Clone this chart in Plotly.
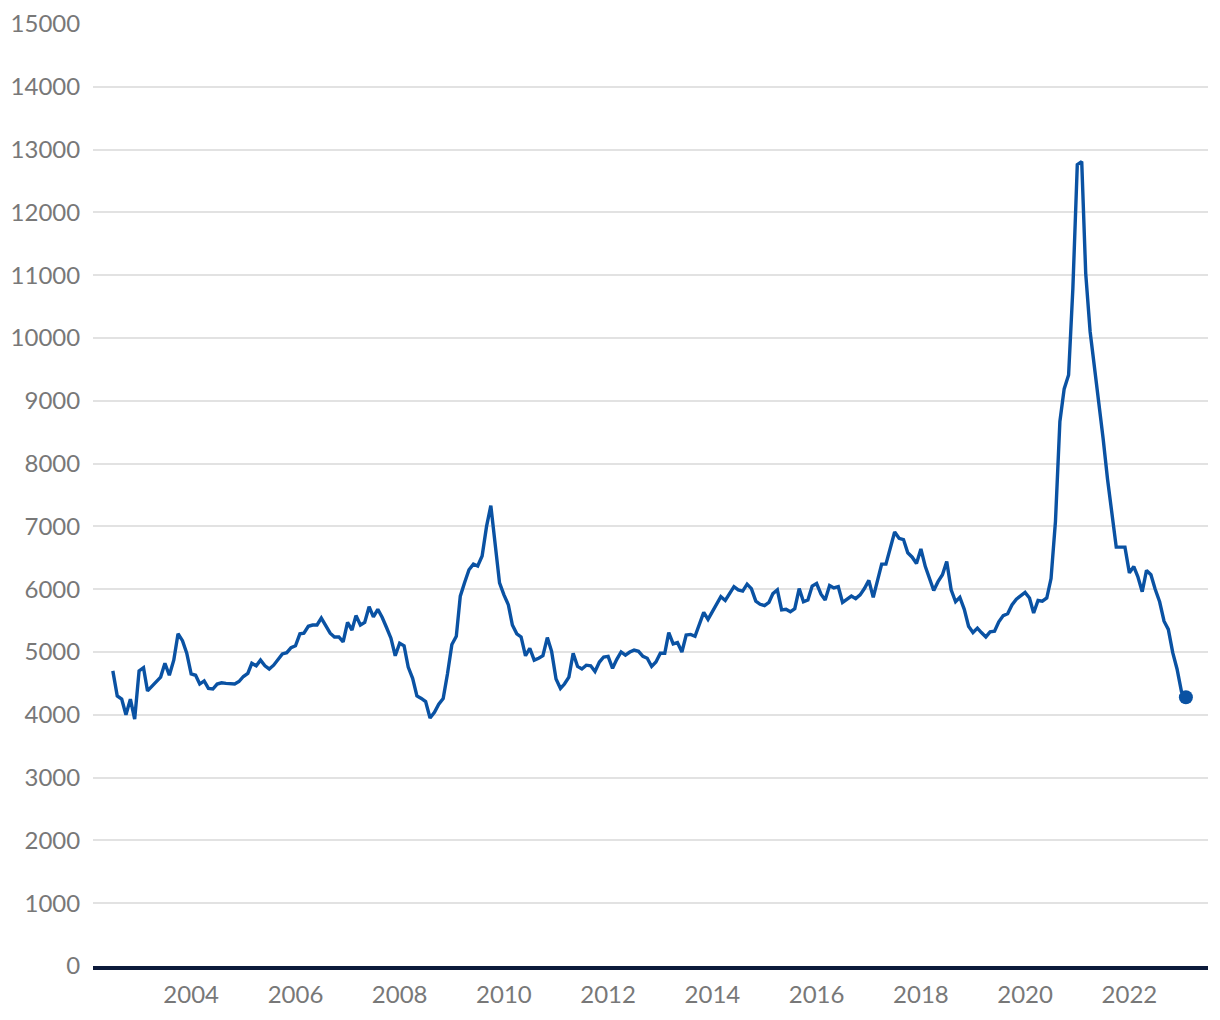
import pandas as pd
import plotly.graph_objects as go

start_month = "2002-07-01"
values = [4700,4300,4250,4000,4250,3930,4700,4750,4380,4450,
          4520,4600,4820,4630,4870,5290,5180,4980,4650,4630,
          4490,4540,4420,4410,4490,4510,4500,4490,4490,4530,
          4610,4660,4820,4780,4870,4780,4730,4790,4880,4970,
          4990,5070,5100,5290,5300,5410,5430,5430,5540,5410,
          5300,5240,5240,5160,5470,5350,5580,5430,5470,5720,
          5560,5680,5550,5390,5220,4940,5140,5100,4760,4580,
          4300,4260,4210,3950,4040,4170,4260,4650,5120,5250,
          5890,6110,6310,6400,6370,6530,7000,7330,6700,6100,
          5910,5750,5430,5290,5240,4940,5060,4870,4900,4940,
          5230,5010,4570,4420,4490,4600,4980,4770,4730,4790,
          4780,4690,4840,4920,4930,4740,4880,5000,4950,5000,
          5030,5010,4930,4900,4770,4840,4980,4980,5310,5130,
          5150,5000,5270,5280,5250,5420,5630,5520,5650,5790,
          5880,5820,5930,6040,5990,5970,6080,6010,5810,5760,
          5740,5790,5930,5990,5670,5680,5640,5690,6010,5800,
          5830,6050,6090,5920,5830,6060,6020,6040,5790,5840,
          5890,5850,5910,6010,6140,5870,6150,6400,6400,6650,
          6910,6810,6790,6580,6510,6410,6640,6360,6180,5980,
          6120,6230,6440,5990,5800,5870,5680,5410,5310,5380,
          5310,5240,5320,5330,5480,5580,5610,5750,5840,5890,
          5950,5860,5620,5820,5810,5860,6170,7080,8670,9190,
          9410,10790,12760,12810,11030,10100,9550,9000,8400,7750,
          7150,6670,6670,6670,6260,6360,6200,5960,6300,6230,
          6000,5800,5490,5360,4990,4730,4370,4280]

dates = pd.date_range(start=start_month, periods=len(values), freq="MS")
y_ticks = list(range(0, 15001, 1000))
y_labels = [str(v) for v in y_ticks]

LINE = "#0a52a3"
GREY = "#787878"

fig = go.Figure()
fig.add_trace(go.Scatter(x=dates, y=values, mode="lines",
                         line=dict(color=LINE, width=3.4), hoverinfo="skip",
                         showlegend=False))
fig.add_trace(go.Scatter(x=[dates[-1]], y=[values[-1]], mode="markers",
                         marker=dict(color=LINE, size=14), showlegend=False))

fig.update_layout(
    width=1220, height=1020,
    margin=dict(l=93, r=12, t=24, b=54),
    paper_bgcolor="white", plot_bgcolor="white",
    font=dict(family="Lato, sans-serif", size=24, color=GREY),
    showlegend=False,
)
fig.update_xaxes(
    type="date", automargin=False,
    range=["2002-02-12", "2023-07-06"],
    tick0="2004-01-01", dtick="M24", tickformat="%Y",
    showgrid=False, zeroline=False,
    showline=True, linecolor="#0c1a3a", linewidth=3.5,
    ticks="outside", ticklen=4, tickcolor="rgba(0,0,0,0)",
    tickfont=dict(size=24, color=GREY),
)
fig.update_yaxes(
    automargin=False,
    range=[0, 15000], tickvals=y_ticks, ticktext=y_labels,
    showgrid=True, gridcolor="#e2e2e2", gridwidth=1.5,
    zeroline=False, showline=False,
    ticks="outside", ticklen=7, tickcolor="rgba(0,0,0,0)",
    tickfont=dict(size=24, color=GREY),
)

fig.write_html("out.html")
